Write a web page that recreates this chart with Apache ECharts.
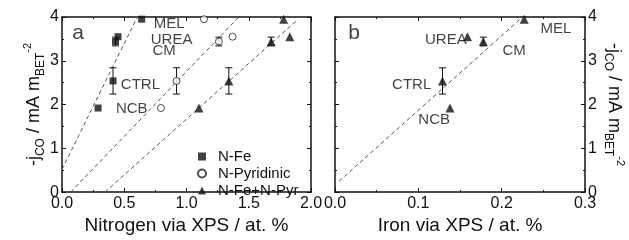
<!DOCTYPE html>
<html>
<head>
<meta charset="utf-8">
<script src="https://cdn.jsdelivr.net/npm/echarts@6/dist/echarts.min.js"></script>
<style>
  html, body { margin: 0; padding: 0; background: #fff; }
  #main { width: 629px; height: 240px; }
</style>
</head>
<body>
<div id="main"></div>
<script>
// samples in order: NCB, CTRL, CM, UREA, MEL
var samples = ['NCB', 'CTRL', 'CM', 'UREA', 'MEL'];
var jco = [1.92, 2.54, 3.44, 3.55, 3.95];
var jcoErr = [0, 0.3, 0.1, 0, 0];

var nFe = [0.29, 0.41, 0.43, 0.45, 0.64];
var nPyr = [0.795, 0.92, 1.26, 1.37, 1.14];
var nFePyr = [1.10, 1.34, 1.68, 1.83, 1.78];
var iron = [0.138, 0.129, 0.178, 0.159, 0.227];

// dashed fit lines (end points)
var fitFe = [[0.0, 0.52], [0.605, 4.0]];
var fitPyr = [[0.07, 0.0], [1.42, 4.0]];
var fitFePyr = [[0.345, 0.0], [1.885, 3.92]];
var fitIron = [[0.005, 0.25], [0.225, 4.0]];

// text annotations (data units)
var notesA = [['a', 0.13, 3.62], ['MEL', 0.86, 3.84], ['UREA', 0.88, 3.48], ['CM', 0.82, 3.22],
              ['CTRL', 0.63, 2.46], ['NCB', 0.56, 1.90]];
var notesB = [['b', 0.023, 3.62], ['MEL', 0.265, 3.74], ['UREA', 0.133, 3.47], ['CM', 0.215, 3.22],
              ['CTRL', 0.092, 2.46], ['NCB', 0.119, 1.65]];

var font = '"Liberation Sans", Arial, sans-serif';
var ink = '#111';

function pts(xs) {
  return xs.map(function (x, i) { return [x, jco[i]]; });
}
function errs(xs) {
  var out = [];
  xs.forEach(function (x, i) {
    if (jcoErr[i] > 0) out.push([x, jco[i], jcoErr[i]]);
  });
  return out;
}
function notes(arr) {
  return arr.map(function (n) {
    return { name: n[0], value: [n[1], n[2]], label: { fontSize: n[0].length === 1 ? 21 : 15 } };
  });
}

var chart = echarts.init(document.getElementById('main'));

function xAx(grid, pos, max, interval, name, labels) {
  return {
    type: 'value', gridIndex: grid, position: pos, min: 0, max: max, interval: interval,
    axisLine: { show: true, onZero: false, lineStyle: { color: ink, width: 1.5 } },
    axisTick: { show: true, inside: true, length: 4, lineStyle: { color: ink } },
    minorTick: { show: true, splitNumber: 2, length: 2, lineStyle: { color: ink } },
    splitLine: { show: false },
    axisLabel: { show: labels, margin: 3, fontSize: 16, color: ink, fontFamily: font,
      formatter: function (v) { return v.toFixed(1); } },
    name: name, nameLocation: 'middle', nameGap: 16,
    nameTextStyle: { fontSize: 19, color: ink, fontFamily: font }
  };
}
function yAx(grid, pos, labels, name, rot, gap) {
  return {
    type: 'value', gridIndex: grid, position: pos, min: 0, max: 4, interval: 1,
    axisLine: { show: true, onZero: false, lineStyle: { color: ink, width: 1.5 } },
    axisTick: { show: true, inside: true, length: 4, lineStyle: { color: ink } },
    minorTick: { show: true, splitNumber: 2, length: 2, lineStyle: { color: ink } },
    splitLine: { show: false },
    axisLabel: { show: labels, margin: 3, fontSize: 16, color: ink, fontFamily: font },
    name: name, nameLocation: 'middle', nameGap: gap, nameRotate: rot,
    nameTextStyle: {
      fontSize: 18, color: ink, fontFamily: font, lineHeight: 24,
      rich: {
        sub: { fontSize: 12, verticalAlign: 'bottom', color: ink, fontFamily: font, lineHeight: 24 },
        sup: { fontSize: 11, verticalAlign: 'top', color: ink, fontFamily: font, lineHeight: 24 }
      }
    }
  };
}

var yName = '-j{sub|CO} / mA m{sub|BET}{sup|-2}';

function errSeries(name, xi, yi, data) {
  return {
    type: 'custom', name: name, xAxisIndex: xi, yAxisIndex: yi, silent: true, z: 3,
    data: data,
    renderItem: function (params, api) {
      var x = api.value(0), y = api.value(1), e = api.value(2);
      var top = api.coord([x, y + e]);
      var bot = api.coord([x, y - e]);
      var st = { stroke: ink, lineWidth: 1 };
      return {
        type: 'group',
        children: [
          { type: 'line', shape: { x1: top[0], y1: top[1], x2: bot[0], y2: bot[1] }, style: st },
          { type: 'line', shape: { x1: top[0] - 3.5, y1: top[1], x2: top[0] + 3.5, y2: top[1] }, style: st },
          { type: 'line', shape: { x1: bot[0] - 3.5, y1: bot[1], x2: bot[0] + 3.5, y2: bot[1] }, style: st }
        ]
      };
    }
  };
}
function fitSeries(name, xi, yi, data) {
  return {
    type: 'line', name: name, xAxisIndex: xi, yAxisIndex: yi, data: data, symbol: 'none',
    silent: true, z: 1,
    lineStyle: { color: '#555', width: 1, type: [4, 3] }
  };
}
function noteSeries(xi, yi, data) {
  return {
    type: 'scatter', xAxisIndex: xi, yAxisIndex: yi, symbolSize: 0, silent: true, z: 5,
    data: data,
    label: { show: true, position: 'inside', formatter: '{b}', color: ink, fontFamily: font }
  };
}

chart.setOption({
  animation: false,
  backgroundColor: '#fff',
  grid: [
    { left: 62, top: 17, width: 249, height: 185 },
    { left: 335, top: 17, width: 250, height: 185 }
  ],
  legend: {
    orient: 'vertical', left: 192, top: 144, itemWidth: 8, itemHeight: 8, itemGap: 2,
    data: ['N-Fe', 'N-Pyridinic', 'N-Fe+N-Pyr'],
    textStyle: { fontSize: 15, color: ink, fontFamily: font, padding: [0, 0, 0, 7] }
  },
  xAxis: [
    xAx(0, 'bottom', 2, 0.5, 'Nitrogen via XPS / at. %', true),
    xAx(0, 'top', 2, 0.5, '', false),
    xAx(1, 'bottom', 0.3, 0.1, 'Iron via XPS / at. %', true),
    xAx(1, 'top', 0.3, 0.1, '', false)
  ],
  yAxis: [
    yAx(0, 'left', true, yName, 90, 8),
    yAx(0, 'right', false, '', 0, 0),
    yAx(1, 'left', false, '', 0, 0),
    yAx(1, 'right', true, yName, -90, 17)
  ],
  series: [
    fitSeries('fitFe', 0, 0, fitFe),
    fitSeries('fitPyr', 0, 0, fitPyr),
    fitSeries('fitFePyr', 0, 0, fitFePyr),
    fitSeries('fitIron', 2, 3, fitIron),
    errSeries('errFe', 0, 0, errs(nFe)),
    errSeries('errPyr', 0, 0, errs(nPyr)),
    errSeries('errFePyr', 0, 0, errs(nFePyr)),
    errSeries('errIron', 2, 3, errs(iron)),
    {
      type: 'scatter', name: 'N-Fe', xAxisIndex: 0, yAxisIndex: 0, data: pts(nFe),
      symbol: 'rect', symbolSize: 7, z: 4,
      itemStyle: { color: ink }
    },
    {
      type: 'scatter', name: 'N-Pyridinic', xAxisIndex: 0, yAxisIndex: 0, data: pts(nPyr),
      symbol: 'circle', symbolSize: 7, z: 4,
      itemStyle: { color: '#fff', borderColor: '#222', borderWidth: 1 }
    },
    {
      type: 'scatter', name: 'N-Fe+N-Pyr', xAxisIndex: 0, yAxisIndex: 0, data: pts(nFePyr),
      symbol: 'triangle', symbolSize: 9, z: 4,
      itemStyle: { color: ink }
    },
    {
      type: 'scatter', name: 'Fe', xAxisIndex: 2, yAxisIndex: 3, data: pts(iron),
      symbol: 'triangle', symbolSize: 9, z: 4,
      itemStyle: { color: ink }
    },
    noteSeries(0, 0, notes(notesA)),
    noteSeries(2, 3, notes(notesB))
  ]
});
</script>
</body>
</html>
